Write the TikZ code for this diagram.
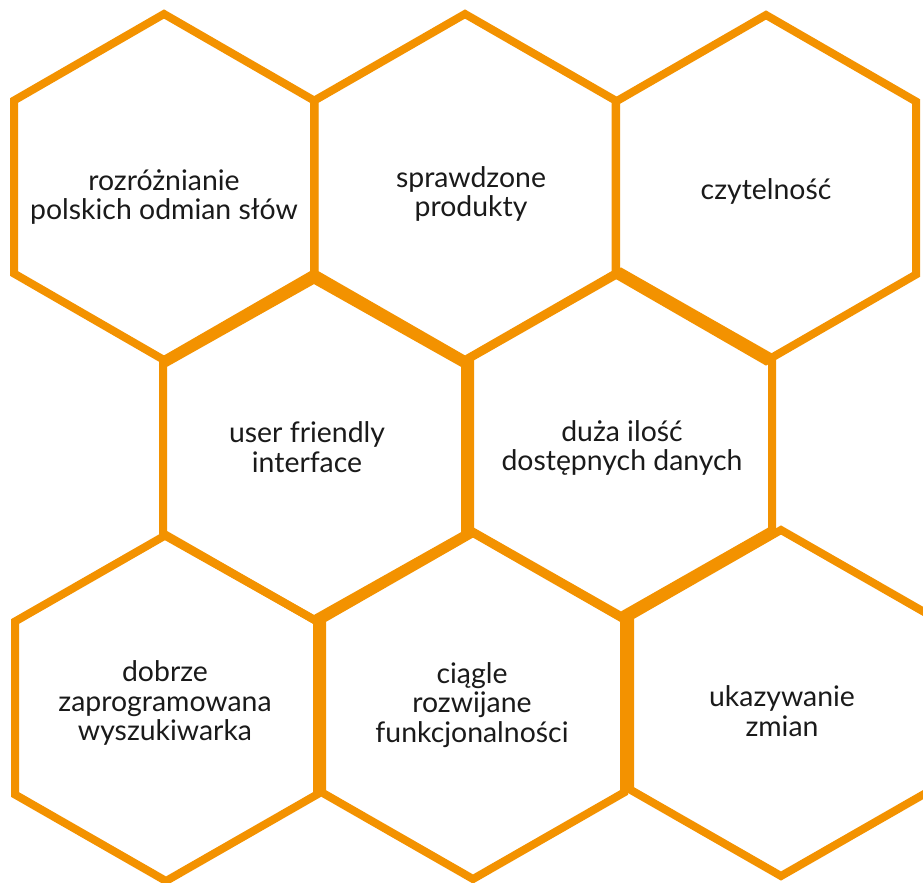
\documentclass[tikz,border=0pt]{standalone}
\usepackage{fontspec}
\setmainfont{Lato}
\definecolor{hexorange}{RGB}{243,146,0}
\definecolor{hextext}{RGB}{26,26,26}
\tikzset{
  hexedge/.style={draw=hexorange, line width=6pt, line join=miter},
  hexlabel/.style={font=\fontsize{21.3}{22.3}\selectfont, text=hextext, align=center, inner sep=0pt}
}
\newcommand\hexcell[4]{%
  \draw[hexedge] (#1,#2-#4) -- (#1+#3,#2-#4/2) -- (#1+#3,#2+#4/2) -- (#1,#2+#4)
    -- (#1-#3,#2+#4/2) -- (#1-#3,#2-#4/2) -- cycle;}
\begin{document}
\begin{tikzpicture}[x=0.75pt,y=-0.75pt]
  \fill[white] (0,0) rectangle (923,882);
  \useasboundingbox (0,0) rectangle (923,882);
  \clip (0,0) rectangle (923,882);
  % top row
  \hexcell{164}{187}{150}{173}
  \hexcell{465}{187}{150.5}{173}
  \hexcell{766}{188}{150}{173}
  % middle row
  \hexcell{314}{449.5}{151}{170}
  \hexcell{621}{444}{151}{172}
  % bottom row
  \hexcell{166}{708}{151}{173}
  \hexcell{473}{706}{151}{173}
  \hexcell{781}{703}{151}{173}
  % labels
  \node[hexlabel] (t1) at (164,197) {rozróżnianie\\polskich odmian słów};
  \node[hexlabel] (t2) at (471,194) {sprawdzone\\produkty};
  \node[hexlabel] (t3) at (766,191) {czytelność};
  \node[hexlabel] (t4) at (307,447) {user friendly\\interface};
  \node[hexlabel] (t5) at (622,448) {duża ilość\\dostępnych danych};
  \node[hexlabel] (t6) at (165,703) {dobrze\\zaprogramowana\\wyszukiwarka};
  \node[hexlabel] (t7) at (472,705) {ciągle\\rozwijane\\funkcjonalności};
  \node[hexlabel] (t8) at (782,711) {ukazywanie\\zmian};
\end{tikzpicture}
\end{document}
